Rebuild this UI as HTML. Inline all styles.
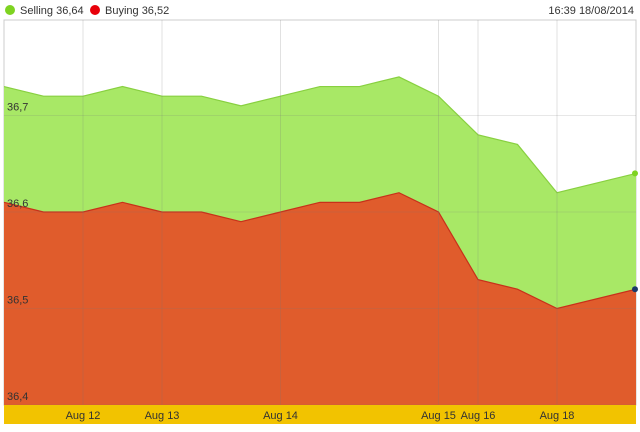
<!DOCTYPE html>
<html><head><meta charset="utf-8"><style>
body{margin:0;width:640px;height:432px;background:#fff;font-family:"Liberation Sans",sans-serif;overflow:hidden}
svg{position:absolute;left:0;top:0}
</style></head><body>
<svg id="c" width="640" height="432"></svg>
<script>
const categories=["Aug 11a","Aug 11b","Aug 12","Aug 12b","Aug 13","Aug 13b","Aug 13c","Aug 14","Aug 14b","Aug 14c","Aug 14d","Aug 15","Aug 16","Aug 16b","Aug 18","Aug 18b"];
const selling=[36.73,36.72,36.72,36.73,36.72,36.72,36.71,36.72,36.73,36.73,36.74,36.72,36.68,36.67,36.62,36.64];
const buying=[36.61,36.60,36.60,36.61,36.60,36.60,36.59,36.60,36.61,36.61,36.62,36.60,36.53,36.52,36.50,36.52];
const xIdx=[0,1,2,3,4,5,6,7,8,9,10,11,12,13,14,16];
const xTicks=[2,4,7,11,12,14];
const xTickLabels=["Aug 12","Aug 13","Aug 14","Aug 15","Aug 16","Aug 18"];
const yTicks=[36.4,36.5,36.6,36.7];
const yTickLabels=["36,4","36,5","36,6","36,7"];
const NS="http://www.w3.org/2000/svg",svg=document.getElementById('c');
const L=4,R=636,T=20,B=405;
const X=i=>L+i*(R-L)/16;
const Y=v=>B-(v-36.4)*965;
function el(t,a,p){const e=document.createElementNS(NS,t);for(const k in a)e.setAttribute(k,a[k]);(p||svg).appendChild(e);return e;}
const r=el('rect',{x:L,y:T,width:R-L,height:B-T,fill:'#fff',stroke:'#ccc'});

function area(vals,fill,stroke,name){
 let d='M'+X(xIdx[0])+','+B;
 vals.forEach((v,i)=>d+=' L'+X(xIdx[i])+','+Y(v));
 d+=' L'+X(xIdx[vals.length-1])+','+B+' Z';
 const p=el('path',{d,fill,stroke:'none'});
 
 const l=el('polyline',{points:vals.map((v,i)=>X(xIdx[i])+','+Y(v)).join(' '),fill:'none',stroke,'stroke-width':1.2});
 
}
area(selling,'#a8e866','#88d040','selling');
area(buying,'#e05c2c','#c8301a','buying');
xTicks.forEach(i=>{const g=el('line',{x1:X(i),x2:X(i),y1:T,y2:B,stroke:'rgba(120,120,120,0.22)'});
});
yTicks.forEach((v,i)=>{const g=el('line',{x1:L,x2:R,y1:Y(v),y2:Y(v),stroke:'rgba(120,120,120,0.18)'});

const t=el('text',{x:7,y:Y(v)-5,'font-size':11,fill:'#333'});t.textContent=yTickLabels[i];
});
const band=el('rect',{x:L,y:B,width:R-L,height:19,fill:'#f2c300'});

xTicks.forEach((i,k)=>{const t=el('text',{x:X(i),y:B+14,'font-size':11,fill:'#333','text-anchor':'middle'});t.textContent=xTickLabels[k];
});
const d1=el('circle',{cx:R-1,cy:Y(selling[15]),r:3,fill:'#7ed321'});

const d2=el('circle',{cx:R-1,cy:Y(buying[15]),r:3,fill:'#1a3a6a'});

const c1=el('circle',{cx:10,cy:10,r:5,fill:'#7ed321'});
const t1=el('text',{x:20,y:14,'font-size':11,fill:'#333'});t1.textContent='Selling 36,64';
const c2=el('circle',{cx:95,cy:10,r:5,fill:'#e8000a'});
const t2=el('text',{x:105,y:14,'font-size':11,fill:'#333'});t2.textContent='Buying 36,52';
const t3=el('text',{x:634,y:14,'font-size':11,fill:'#333','text-anchor':'end'});t3.textContent='16:39 18/08/2014';
</script>
</body></html>
